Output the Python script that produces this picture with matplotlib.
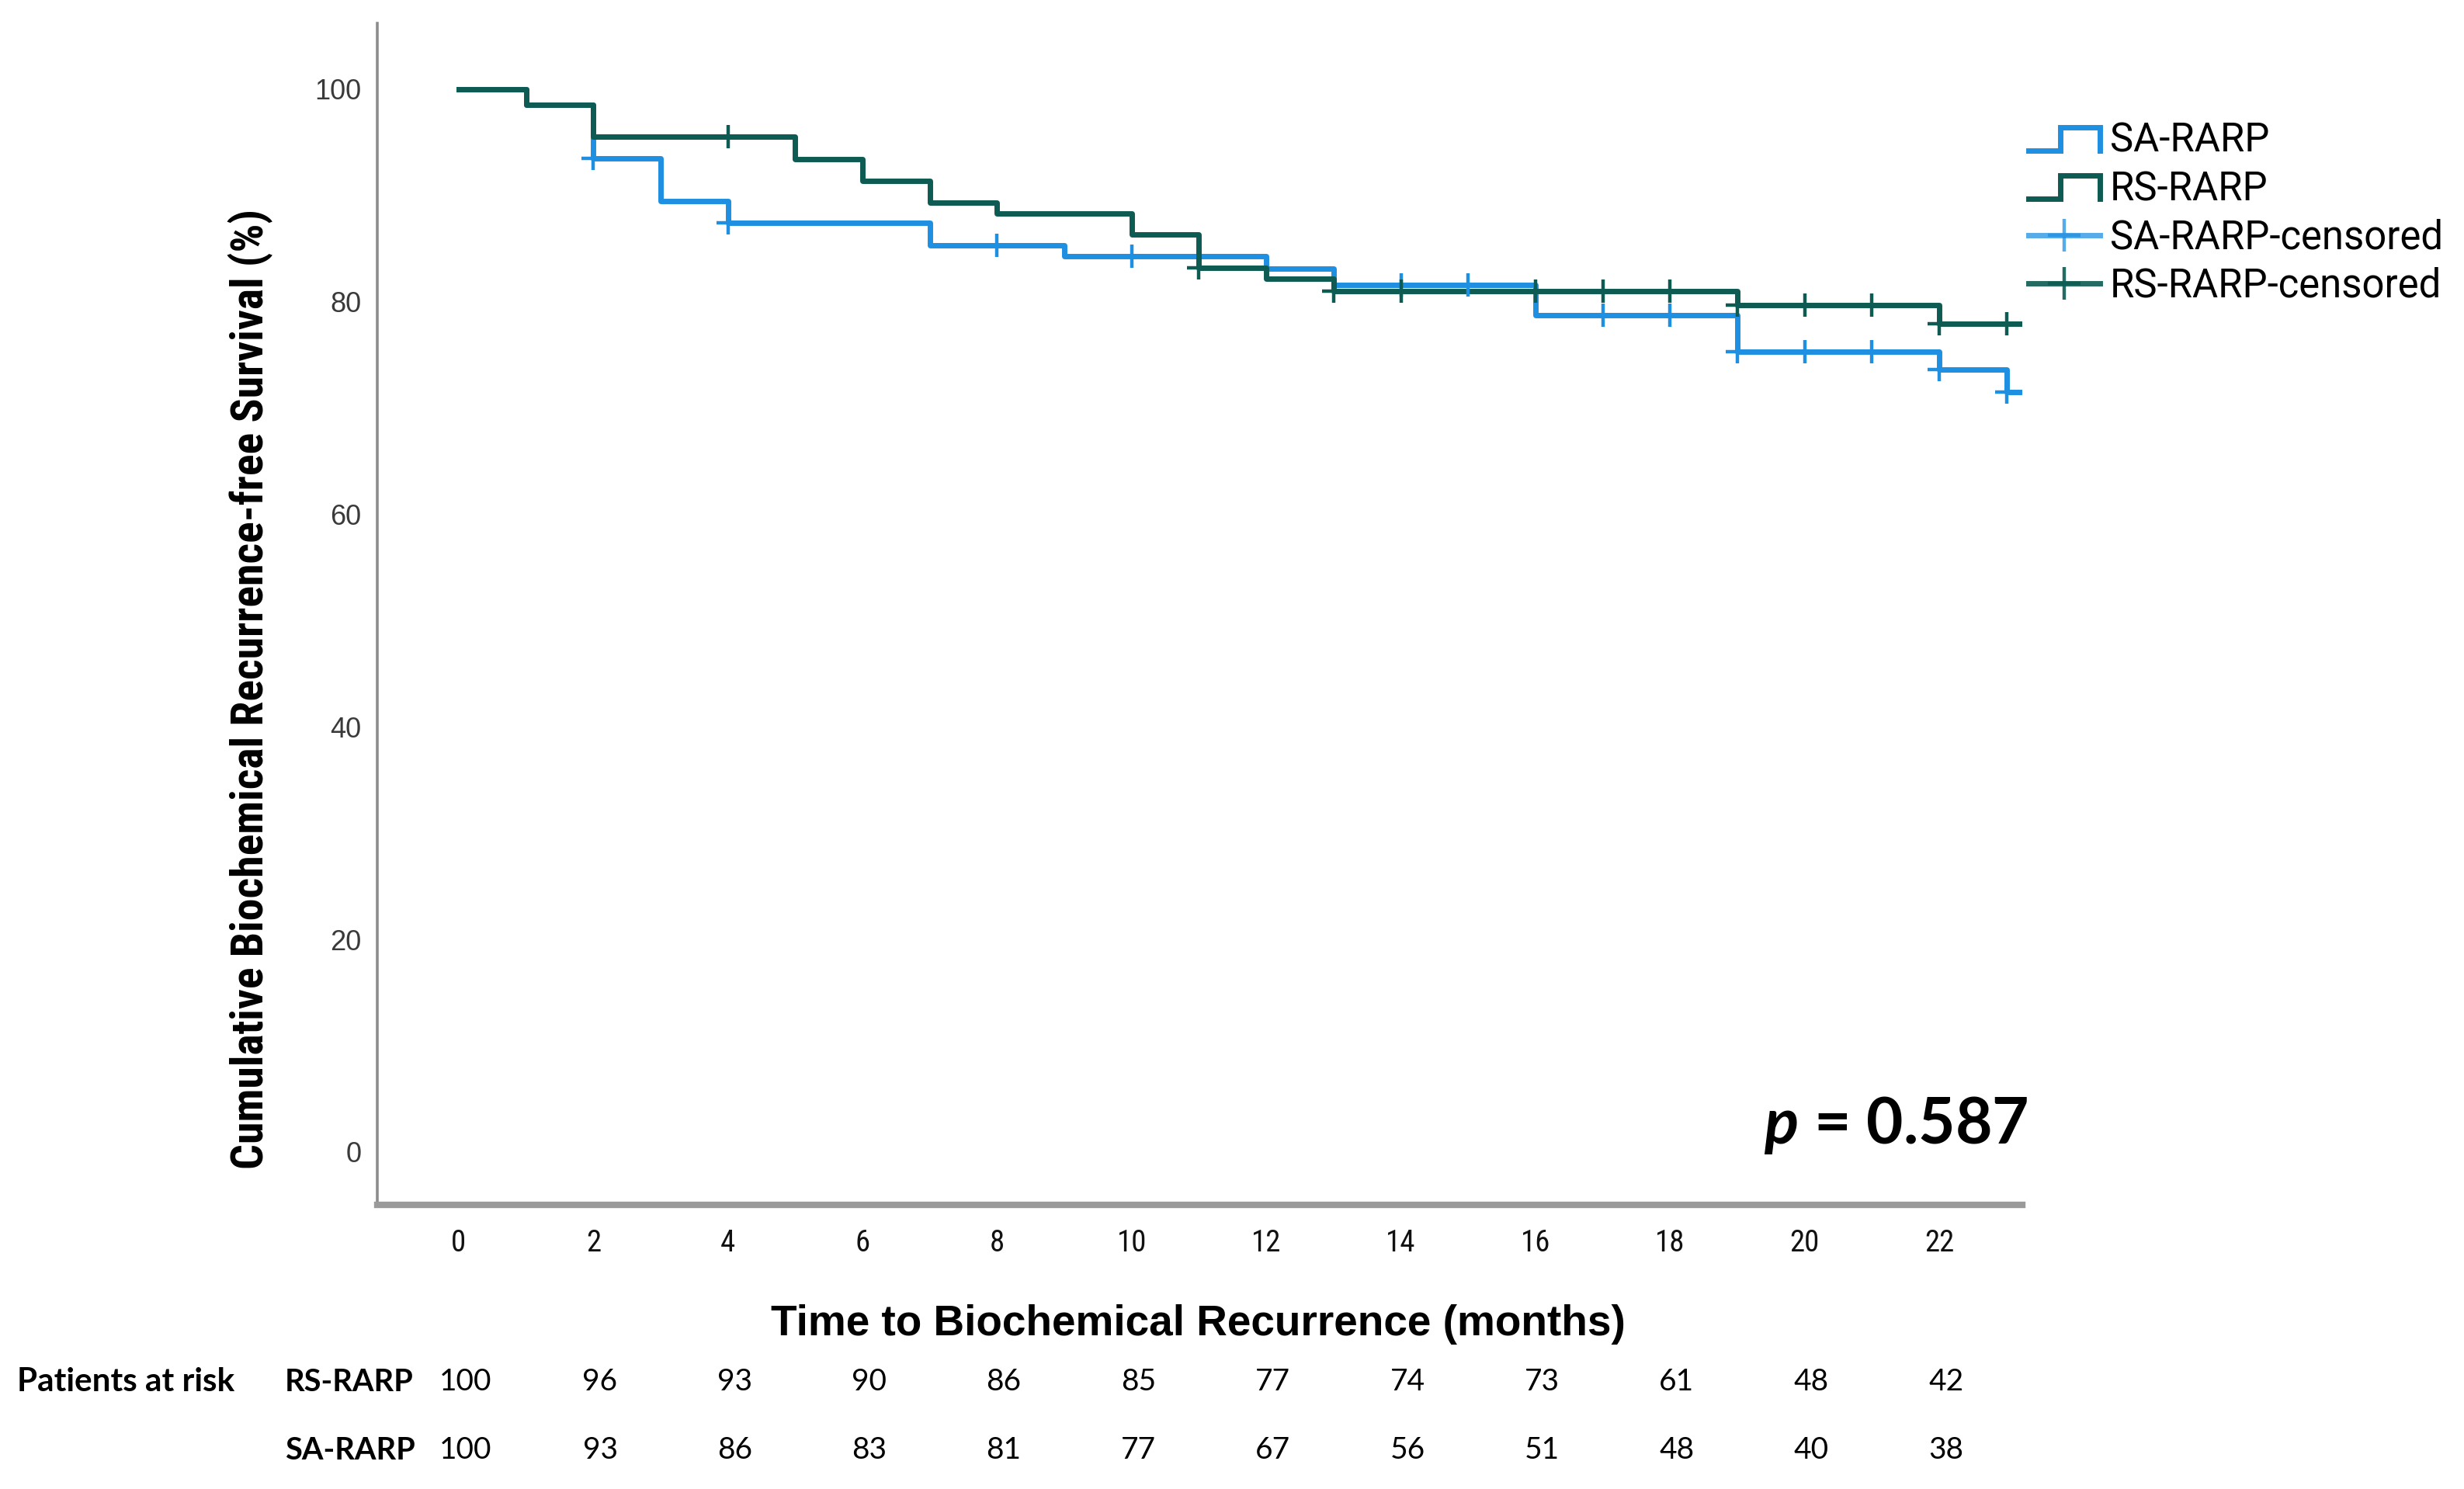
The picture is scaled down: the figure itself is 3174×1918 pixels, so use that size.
import numpy as np
import matplotlib
matplotlib.use('Agg')
import matplotlib.pyplot as plt
from matplotlib import font_manager
from matplotlib.lines import Line2D
from matplotlib.legend_handler import HandlerBase
from matplotlib.transforms import blended_transform_factory

# Kaplan-Meier step data (months, % recurrence-free)
sa_time = [0, 1, 2, 3, 4, 7, 9, 12, 13, 16, 19, 22, 23]
sa_surv = [100, 98.5, 93.5, 89.5, 87.4, 85.3, 84.3, 83.1, 81.6, 78.7, 75.3, 73.6, 71.5]
sa_cens = [2, 4, 8, 10, 14, 15, 17, 18, 19, 20, 21, 22, 23]

rs_time = [0, 1, 2, 5, 6, 7, 8, 10, 11, 12, 13, 19, 22]
rs_surv = [100, 98.5, 95.5, 93.4, 91.4, 89.3, 88.3, 86.3, 83.2, 82.2, 81.0, 79.7, 77.9]
rs_cens = [4, 11, 13, 14, 16, 17, 18, 19, 20, 21, 22, 23]

t_end = 23.2

# numbers at risk
risk_times = [0, 2, 4, 6, 8, 10, 12, 14, 16, 18, 20, 22]
rs_risk = [100, 96, 93, 90, 86, 85, 77, 74, 73, 61, 48, 42]
sa_risk = [100, 93, 86, 83, 81, 77, 67, 56, 51, 48, 40, 38]

SA_COL = '#1E8FE1'
RS_COL = '#0D5B52'


def pick_font(names):
    have = set(f.name for f in font_manager.fontManager.ttflist)
    for n in names:
        if n in have:
            return n
    return 'DejaVu Sans'


narrow = pick_font(['Liberation Sans Narrow', 'Roboto Condensed', 'Liberation Sans'])
arial = pick_font(['Liberation Sans', 'Arimo', 'DejaVu Sans'])
legfont = pick_font(['Roboto', 'Liberation Sans'])
pfont = pick_font(['Lato', 'Open Sans', 'Liberation Sans'])

plt.rcParams['mathtext.fontset'] = 'custom'
plt.rcParams['mathtext.it'] = pfont + ':italic:bold'
plt.rcParams['mathtext.rm'] = pfont + ':bold'


class StepHandler(HandlerBase):
    def create_artists(self, legend, orig_handle, xdescent, ydescent,
                       width, height, fontsize, trans):
        x0 = -xdescent
        y0 = -ydescent
        xs = [x0, x0 + 0.45 * width, x0 + 0.45 * width, x0 + width, x0 + width]
        ys = [y0 + 0.05 * height, y0 + 0.05 * height, y0 + 0.9 * height,
              y0 + 0.9 * height, y0 + 0.05 * height]
        ln = Line2D(xs, ys, color=orig_handle.get_color(),
                    lw=orig_handle.get_linewidth(), solid_joinstyle='miter')
        ln.set_transform(trans)
        return [ln]


def step_value(times, surv, t):
    i = np.searchsorted(times, t, side='right') - 1
    return surv[i]


fig = plt.figure(figsize=(15.87, 9.59), dpi=200)
ax = fig.add_axes([486 / 3174, 366 / 1918, (2605 - 486) / 3174, (1552 - 30) / 1918])

# curves
sa_x = sa_time + [t_end]
sa_y = sa_surv + [sa_surv[-1]]
rs_x = rs_time + [t_end]
rs_y = rs_surv + [rs_surv[-1]]

l_sa, = ax.step(sa_x, sa_y, where='post', color=SA_COL, lw=2.5, zorder=3)
l_rs, = ax.step(rs_x, rs_y, where='post', color=RS_COL, lw=2.5, zorder=4)

sa_cy = [step_value(sa_time, sa_surv, t) for t in sa_cens]
rs_cy = [step_value(rs_time, rs_surv, t) for t in rs_cens]
ax.plot(sa_cens, sa_cy, ls='none', marker='+', ms=11, mew=1.6, color=SA_COL, zorder=5)
ax.plot(rs_cens, rs_cy, ls='none', marker='+', ms=11, mew=1.6, color=RS_COL, zorder=6)

ax.set_xlim(-1.211, 23.235)
ax.set_ylim(-4.97, 106.2)
ax.set_xticks(range(0, 23, 2))
ax.set_yticks(range(0, 101, 20))

for s in ['top', 'right']:
    ax.spines[s].set_visible(False)
ax.spines['left'].set_color('#8c8c8c')
ax.spines['left'].set_linewidth(1.3)
ax.spines['bottom'].set_color('#9a9a9a')
ax.spines['bottom'].set_linewidth(3)

ax.tick_params(axis='y', length=0, pad=7.5, labelsize=13, labelcolor='#3a3a3a')
ax.tick_params(axis='x', length=0, pad=11, labelsize=14, labelcolor='#111111')
for lab in ax.get_yticklabels():
    lab.set_fontfamily(arial)
for lab in ax.get_xticklabels():
    lab.set_fontfamily(narrow)

# axis titles
fig.text(323 / 3174, 1 - 888 / 1918, 'Cumulative Biochemical Recurrence-free Survival (%)',
         rotation=90, ha='center', va='center', fontsize=20.8, fontweight='bold',
         family=narrow)
fig.text(1543 / 3174, 1 - 1706 / 1918, 'Time to Biochemical Recurrence (months)',
         ha='center', va='center', fontsize=19.8, fontweight='bold', family=arial)

# p value
fig.text(2613 / 3174, 1 - 1473 / 1918, r'$p$ = 0.587', ha='right', va='baseline',
         fontsize=29.5, fontweight='bold', family=pfont)

# legend
h_sa_c = Line2D([], [], color=SA_COL, lw=2.5, alpha=0.75, marker='+', ms=15, mew=1.6)
h_rs_c = Line2D([], [], color=RS_COL, lw=2.5, alpha=0.9, marker='+', ms=15, mew=1.6)
leg = fig.legend([l_sa, l_rs, h_sa_c, h_rs_c],
                 ['SA-RARP', 'RS-RARP', 'SA-RARP-censored', 'RS-RARP-censored'],
                 handler_map={l_sa: StepHandler(), l_rs: StepHandler()},
                 loc='upper left', bbox_to_anchor=(2613 / 3174, 1 - 157 / 1918),
                 frameon=False, borderpad=0, borderaxespad=0,
                 handlelength=1.8, handletextpad=0.26, labelspacing=0.24,
                 prop={'family': legfont, 'size': 18.3}, numpoints=1)

# patients at risk table
tr = blended_transform_factory(ax.transData, fig.transFigure)
y_rs = 1 - 1780 / 1918
y_sa = 1 - 1868 / 1918
fig.text(22 / 3174, y_rs, 'Patients at risk', ha='left', va='center',
         fontsize=15.2, fontweight='bold', family=pfont)
fig.text(367 / 3174, y_rs, 'RS-RARP', ha='left', va='center',
         fontsize=14.3, fontweight='bold', family=pfont)
fig.text(367 / 3174, y_sa, 'SA-RARP', ha='left', va='center',
         fontsize=14.3, fontweight='bold', family=pfont)
for t, n in zip(risk_times, rs_risk):
    ax.text(t + 0.1, y_rs, str(n), transform=tr, ha='center', va='center',
            fontsize=14, family=pfont, clip_on=False)
for t, n in zip(risk_times, sa_risk):
    ax.text(t + 0.1, y_sa, str(n), transform=tr, ha='center', va='center',
            fontsize=14, family=pfont, clip_on=False)

fig.savefig('out.png', dpi=200, facecolor='white')
